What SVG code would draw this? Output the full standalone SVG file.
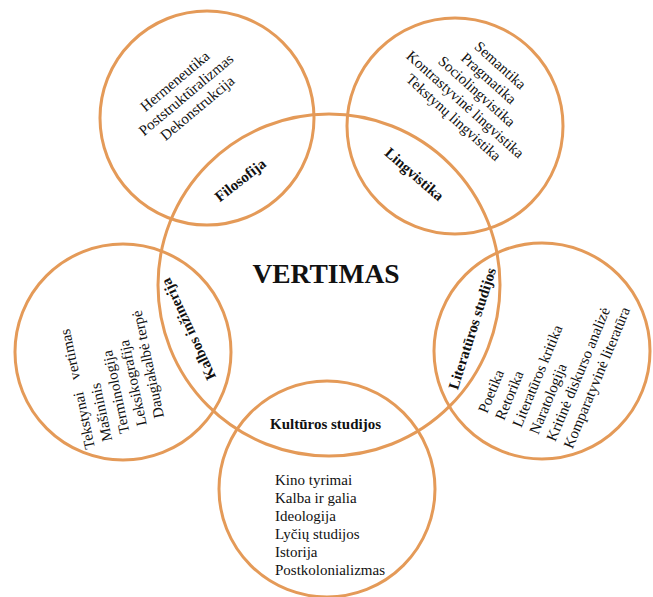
<svg xmlns="http://www.w3.org/2000/svg" width="653" height="597" viewBox="0 0 653 597">
<style>
.c{fill:none;stroke:#E49A58;stroke-width:3}
text{font-family:"Liberation Serif","Times New Roman",serif;fill:#111}
.i{font-size:15px}
.b{font-size:15px;font-weight:bold}
.m{text-anchor:middle}
</style>
<rect width="653" height="597" fill="#fff"/>
<g id="vertimas">
<circle class="c" cx="329" cy="285" r="171"/>
<text class="m" x="326" y="283" style="font-size:27.5px;font-weight:bold">VERTIMAS</text>
</g>
<g id="filosofija">
<circle class="c" cx="207" cy="118" r="107"/>
<text class="b m" transform="translate(243.5,184) rotate(-38)">Filosofija</text>
<g transform="translate(178,85) rotate(-40)">
<text class="i m" x="0" y="0">Hermeneutika</text>
<text class="i m" x="0" y="17.5">Poststruktūralizmas</text>
<text class="i m" x="0" y="35">Dekonstrukcija</text>
</g>
</g>
<g id="lingvistika">
<circle class="c" cx="455" cy="126" r="108"/>
<text class="b m" transform="translate(411,178) rotate(41)">Lingvistika</text>
<g transform="translate(497,69) rotate(42)">
<text class="i m" x="0" y="0">Semantika</text>
<text class="i m" x="0" y="17.5">Pragmatika</text>
<text class="i m" x="0" y="35">Sociolingvistika</text>
<text class="i m" x="0" y="52.5">Kontrastyvinė lingvistika</text>
<text class="i m" x="0" y="70">Tekstynų lingvistika</text>
</g>
</g>
<g id="kalbos-inzinerija">
<circle class="c" cx="123" cy="352" r="108"/>
<text class="b m" transform="translate(193,327) rotate(-115)">Kalbos inžinerija</text>
<g transform="translate(95,448) rotate(-102)">
<text class="i" x="0" y="0" word-spacing="9">Tekstynai vertimas</text>
<text class="i" x="4" y="18.5">Mašininis</text>
<text class="i" x="8" y="37">Terminologija</text>
<text class="i" x="12" y="55.5">Leksikografija</text>
<text class="i" x="16" y="74">Daugiakalbė terpė</text>
</g>
</g>
<g id="literaturos-studijos">
<circle class="c" cx="542" cy="351" r="108"/>
<text class="b m" transform="translate(477,330) rotate(-72.3)">Literatūros studijos</text>
<g transform="translate(487,414) rotate(-67.5)">
<text class="i" x="0" y="0">Poetika</text>
<text class="i" x="0" y="18.5">Retorika</text>
<text class="i" x="0" y="37">Literatūros kritika</text>
<text class="i" x="0" y="55.5">Naratologija</text>
<text class="i" x="0" y="74">Kritinė diskurso analizė</text>
<text class="i" x="0" y="92.5">Komparatyvinė literatūra</text>
</g>
</g>
<g id="kulturos-studijos">
<circle class="c" cx="327" cy="489" r="108"/>
<text class="b m" x="325.5" y="429">Kultūros studijos</text>
<text class="i" x="275" y="485">Kino tyrimai</text>
<text class="i" x="275" y="503">Kalba ir galia</text>
<text class="i" x="275" y="521">Ideologija</text>
<text class="i" x="275" y="539">Lyčių studijos</text>
<text class="i" x="275" y="557">Istorija</text>
<text class="i" x="275" y="575">Postkolonializmas</text>
</g>
<g id="connectors"></g>
</svg>
